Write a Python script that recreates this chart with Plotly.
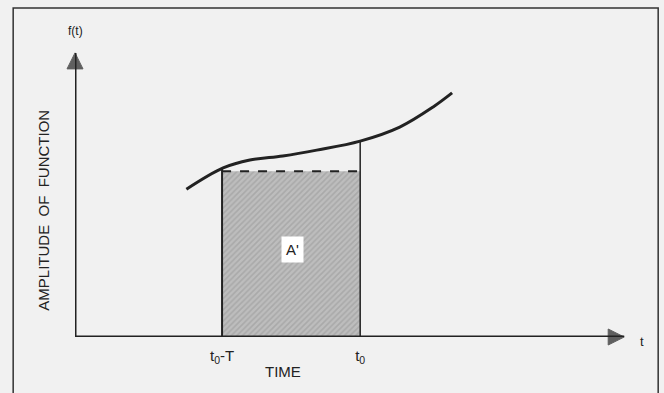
import plotly.graph_objects as go

# ---- data (abstract units: time on x, amplitude on y) ----
curve_t = [2.0, 2.66, 3.14, 3.73, 4.34, 5.12, 5.83, 6.43, 6.77]
curve_f = [5.06, 5.79, 6.06, 6.20, 6.40, 6.71, 7.19, 7.88, 8.36]

t_start = 2.64      # t0 - T
t_end = 5.12        # t0
avg_level = 5.68    # dashed level of the shaded area
f_start = 5.79      # curve value at t0 - T
f_end = 6.71        # curve value at t0

tick_vals = [t_start, t_end]
tick_text = ["t<sub>0</sub>-T", "t<sub>0</sub>"]

INK = "#222222"
FONT = "Liberation Sans, Arial, sans-serif"

fig = go.Figure()

# shaded area A'
fig.add_trace(go.Scatter(
    x=[t_start, t_end, t_end, t_start, t_start],
    y=[0, 0, avg_level, avg_level, 0],
    mode="none", fill="toself",
    fillcolor="#b8b8b8",
    fillpattern=dict(shape="/", fgcolor="#959595", bgcolor="#bdbdbd",
                     size=4, solidity=0.4),
    hoverinfo="skip", showlegend=False))

# dashed top of the area
fig.add_trace(go.Scatter(
    x=[t_start, t_end], y=[avg_level, avg_level], mode="lines",
    line=dict(color=INK, width=2, dash="dash"), showlegend=False))

# vertical edges
fig.add_trace(go.Scatter(
    x=[t_start, t_start], y=[0, f_start], mode="lines",
    line=dict(color=INK, width=2), showlegend=False, cliponaxis=False))
fig.add_trace(go.Scatter(
    x=[t_end, t_end], y=[0, f_end], mode="lines",
    line=dict(color=INK, width=1.5), showlegend=False, cliponaxis=False))

# the function
fig.add_trace(go.Scatter(
    x=curve_t, y=curve_f, mode="lines",
    line=dict(color=INK, width=3, shape="spline", smoothing=1.0),
    showlegend=False))

# axes with arrow heads
fig.add_trace(go.Scatter(
    x=[0, 9.86], y=[0, 0], mode="lines+markers", cliponaxis=False,
    line=dict(color=INK, width=3),
    marker=dict(symbol=["circle", "arrow-right"], size=[0, 16], color=INK,
                line=dict(color=INK, width=1)),
    showlegend=False))
fig.add_trace(go.Scatter(
    x=[0, 0], y=[0, 9.73], mode="lines+markers", cliponaxis=False,
    line=dict(color=INK, width=3),
    marker=dict(symbol=["circle", "arrow-up"], size=[0, 16], color=INK,
                line=dict(color=INK, width=1)),
    showlegend=False))

# labels
fig.add_annotation(x=0, y=10, xref="x", yref="y", text="f(t)", showarrow=False,
                   yanchor="bottom", yshift=5, font=dict(size=12, color=INK, family=FONT))
fig.add_annotation(x=10, y=0, xref="x", yref="y", text="t", showarrow=False,
                   xanchor="left", xshift=6, yshift=-4, font=dict(size=13, color=INK, family=FONT))
fig.add_annotation(x=3.73, y=-0.154, xref="x", yref="paper", text="TIME", showarrow=False,
                   font=dict(size=15, color=INK, family=FONT))
fig.add_annotation(x=-0.075, y=0.435, xref="paper", yref="paper",
                   text="AMPLITUDE\u00a0\u00a0OF\u00a0\u00a0FUNCTION", textangle=-90,
                   showarrow=False, font=dict(size=15, color=INK, family=FONT))
fig.add_annotation(x=3.91, y=2.98, xref="x", yref="y", text="A'", showarrow=False,
                   bgcolor="white", borderpad=4, font=dict(size=15, color=INK, family=FONT))

# outer frame
fig.add_shape(type="rect", xref="paper", yref="paper",
              x0=-0.111, x1=1.047, y0=-0.4, y1=1.127,
              line=dict(color="#333333", width=1.5), layer="below")

fig.update_layout(
    width=664, height=393,
    margin=dict(l=75, r=32, t=45, b=56),
    paper_bgcolor="#f1f1f1", plot_bgcolor="#f1f1f1",
    showlegend=False,
    xaxis=dict(range=[0, 10], showgrid=False, zeroline=False, showline=False,
               tickvals=tick_vals, ticktext=tick_text, ticks="",
               ticklabelstandoff=8, tickfont=dict(size=15, color=INK, family=FONT)),
    yaxis=dict(range=[0, 10], showgrid=False, zeroline=False, showline=False,
               showticklabels=False, ticks=""),
)

fig.write_html("out.html", config={"displayModeBar": False},
               post_script="document.body.style.margin='0';document.body.style.overflow='hidden';")
